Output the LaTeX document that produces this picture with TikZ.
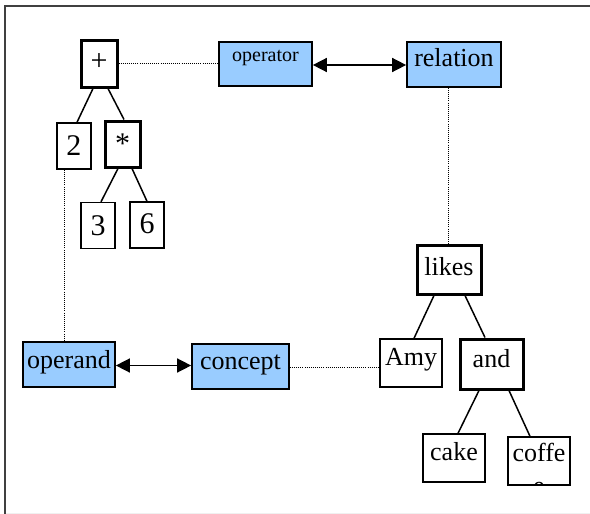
\documentclass[tikz,border=0pt]{standalone}
\usepackage{fontspec}
\setmainfont{Liberation Serif}
\usetikzlibrary{arrows.meta,calc}
\definecolor{conceptblue}{HTML}{99CCFF}
\tikzset{
  box/.style={draw=black,rectangle,inner xsep=0pt,inner ysep=0pt,fill=white,
    font=\fontsize{26}{30}\selectfont},
  leaf/.style={box,line width=1.4pt},
  inner/.style={box,line width=3pt},
  tag/.style={box,line width=1.7pt,fill=conceptblue},
  num/.style={font=\fontsize{30}{34}\selectfont},
  tb/.style 2 args={text height=#1pt,text depth=#2pt},
  sz/.style 2 args={minimum width=#1pt,minimum height=#2pt},
  branch/.style={line width=1.5pt},
  link/.style={line width=1pt,dash pattern=on 1pt off 1.1pt},
  pair/.style={line width=1.5pt,{Triangle[length=14pt,width=14pt]}-{Triangle[length=14pt,width=14pt]}},
}
\begin{document}
\begin{tikzpicture}[x=1pt,y=-1pt]
\useasboundingbox (0,0) rectangle (590,514);
% frame
\draw[line width=0.8pt,gray!12] (5,513.4) -- (590,513.4);
\draw[line width=2pt,black!75] (5,514) -- (5,6) -- (590,6);

% arithmetic tree
\node[inner,num,sz={36}{47},tb={17}{3}] (plus) at (99,63.5) {+};
\node[leaf,num,sz={34}{46},tb={19}{1}] (two) at (74,146) {2};
\node[inner,num,sz={35}{46},tb={19}{1}] (star) at (122.5,144) {*};
\node[leaf,num,sz={34}{46},tb={19.5}{0.5}] (three) at (98,225.5) {3};
\node[leaf,num,sz={34}{46},tb={18}{2}] (six) at (147,225) {6};

% sentence tree
\node[inner,sz={64}{49},tb={15.5}{4.5}] (likes) at (449,269.5) {likes};
\node[leaf,sz={62}{48},tb={12}{8}] (amy) at (411,363) {Amy};
\node[inner,sz={63}{50},tb={13.7}{6.3}] (and) at (491.5,364) {and};
\node[leaf,sz={62}{48},tb={12}{8}] (cake) at (454,458) {cake};
\node[leaf,sz={62}{48},tb={10.7}{9.3}] (coffe) at (539,461) {coffe};
\begin{scope}
  \clip (coffe.south west) rectangle (coffe.north east);
  \node[font=\fontsize{26}{30}\selectfont,inner sep=0pt,anchor=base] (coffetail) at (539,494) {e};
\end{scope}

% category boxes
\node[tag,sz={93}{44},tb={7.7}{12.3},font=\fontsize{20}{24}\selectfont] (operator) at (265.5,64) {operator};
\node[tag,sz={94}{45},tb={12.2}{7.8}] (relation) at (454,64.5) {relation};
\node[tag,sz={92}{45},tb={13.5}{6.5}] (operand) at (69,364.5) {operand};
\node[tag,sz={97}{45},tb={12.5}{7.5}] (concept) at (240.5,366.5) {concept};

% tree branches
\draw[branch] ($(plus.south)+(-6,0)$) -- ($(two.north)+(3,0)$);
\draw[branch] ($(plus.south)+(9,0)$) -- ($(star.north)+(1.5,0)$);
\draw[branch] ($(star.south)+(-4.5,0)$) -- ($(three.north)+(3,0)$);
\draw[branch] ($(star.south)+(9.5,0)$) -- (six.north);
\draw[branch] ($(likes.south)+(-15,0)$) -- ($(amy.north)+(3,0)$);
\draw[branch] ($(likes.south)+(16,0)$) -- ($(and.north)+(-6.5,0)$);
\draw[branch] ($(and.south)+(-12.5,0)$) -- ($(cake.north)+(4,0)$);
\draw[branch] ($(and.south)+(17.5,0)$) -- ($(coffe.north)+(-9,0)$);

% dotted links between instances and categories
\draw[link] (plus.east) -- (operator.west |- plus.east);
\draw[link] ($(relation.south)+(-6,0)$) -- ($(likes.north)+(-1,0)$);
\draw[link] ($(two.south)+(-10,0)$) -- ($(operand.north)+(-5,0)$);
\draw[link] ($(concept.east)+(0,0.5)$) -- ($(amy.west |- concept.east)+(0,0.5)$);

% two-way arrows
\draw[pair] ($(operator.east)+(0,1)$) -- ($(relation.west |- operator.east)+(0,1)$);
\draw[pair] ($(operand.east)+(0,1)$) -- ($(concept.west |- operand.east)+(0,1)$);
\end{tikzpicture}
\end{document}
